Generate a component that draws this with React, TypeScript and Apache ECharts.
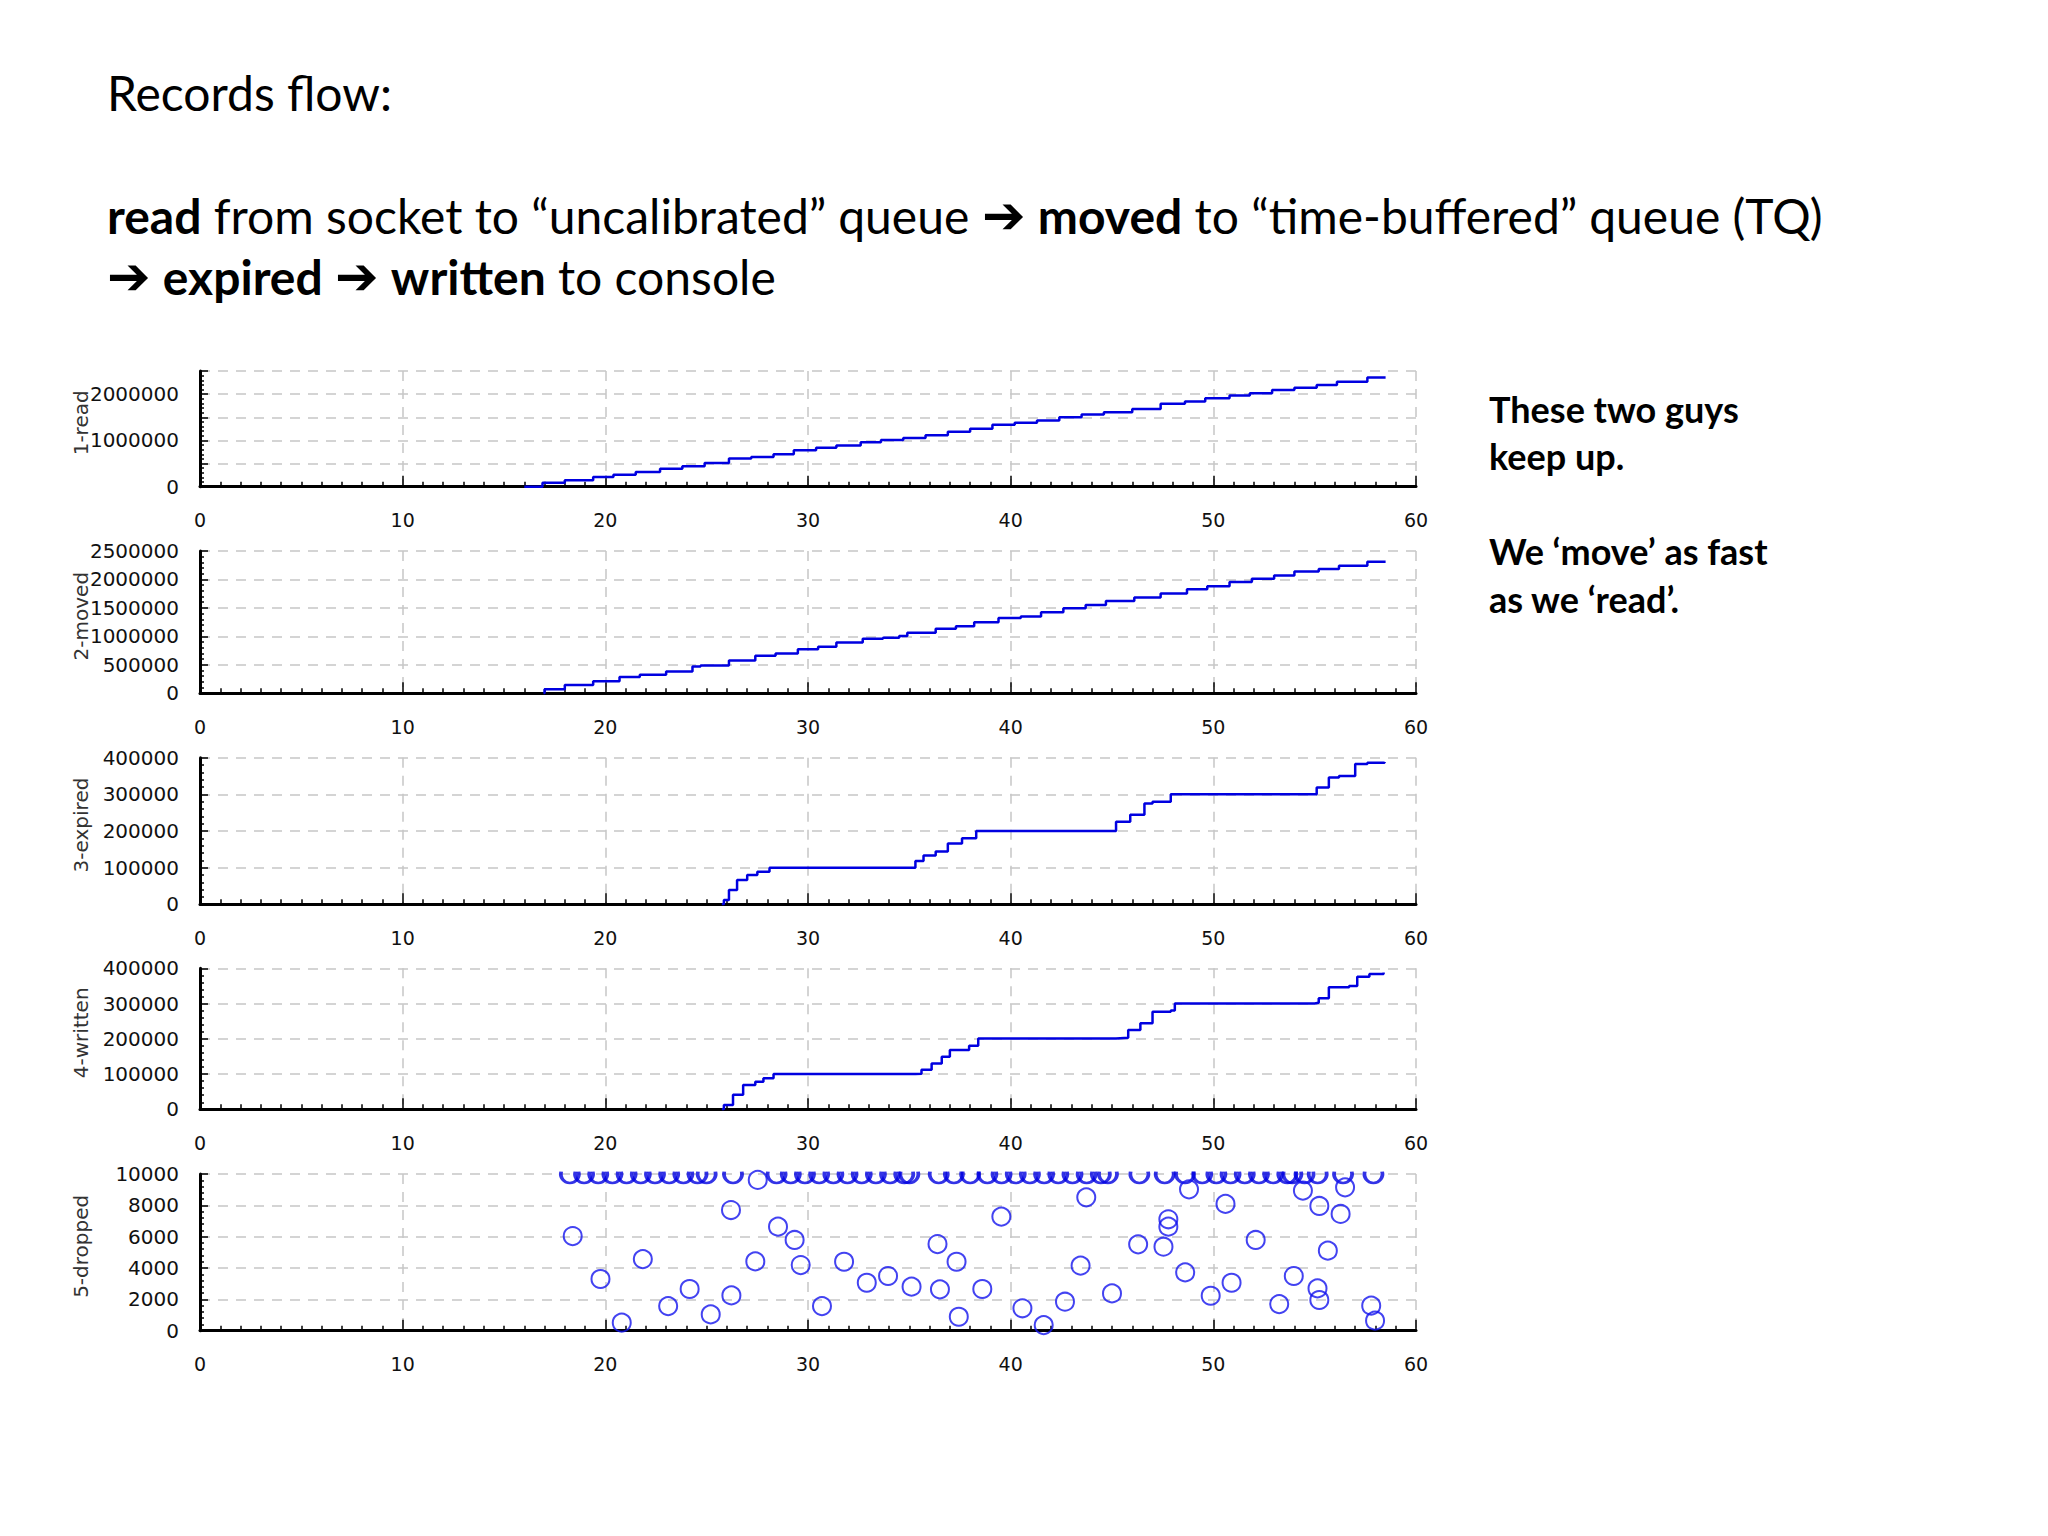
import React, { useEffect, useRef } from 'react';
import * as echarts from 'echarts';

// ---------- data ----------
const panelNames = ['1-read', '2-moved', '3-expired', '4-written', '5-dropped'];
const xTickLabels = [0, 10, 20, 30, 40, 50, 60];

const readData: [number, number][] = [
  [16.0, 0], [16.9, 86000], [18.0, 140000], [19.4, 210000], [20.4, 260000], [21.5, 320000],
  [22.7, 390000], [23.8, 440000], [24.9, 510000], [26.1, 610000], [27.2, 640000], [28.3, 700000],
  [29.3, 786000], [30.4, 840000], [31.4, 890000], [32.6, 960000], [33.6, 1010000], [34.7, 1050000],
  [35.8, 1110000], [36.9, 1190000], [38.0, 1250000], [39.1, 1340000], [40.2, 1380000], [41.3, 1430000],
  [42.4, 1500000], [43.5, 1560000], [44.6, 1610000], [46.0, 1680000], [47.4, 1790000], [48.6, 1840000],
  [49.6, 1910000], [50.8, 1970000], [51.8, 2020000], [52.9, 2090000], [54.0, 2140000], [55.1, 2200000],
  [56.1, 2270000], [57.6, 2360000], [58.5, 2370000],
];

const movedData: [number, number][] = [
  [16.95, 0], [17.0, 69000], [18.0, 144000], [19.4, 213000], [20.7, 287000], [21.7, 328000],
  [23.0, 385000], [24.3, 471000], [24.7, 489000], [26.1, 575000], [27.4, 661000], [28.4, 701000],
  [29.5, 776000], [30.5, 816000], [31.4, 891000], [32.7, 960000], [33.7, 977000], [34.5, 1006000],
  [34.9, 1063000], [36.3, 1132000], [37.3, 1178000], [38.2, 1247000], [39.4, 1322000], [40.5, 1350000],
  [41.5, 1425000], [42.6, 1494000], [43.7, 1552000], [44.7, 1621000], [46.1, 1684000], [47.4, 1753000],
  [48.7, 1828000], [49.7, 1879000], [50.8, 1954000], [51.9, 2011000], [53.0, 2069000], [54.0, 2138000],
  [55.2, 2184000], [56.2, 2241000], [57.6, 2310000], [58.5, 2310000],
];

const expiredData: [number, number][] = [
  [25.75, 0], [25.85, 12000], [26.1, 39000], [26.5, 66000], [27.0, 80000], [27.5, 89000],
  [28.1, 100000], [35.3, 118000], [35.7, 133000], [36.3, 144000], [36.9, 166000], [37.6, 180000],
  [38.3, 200000], [45.2, 225000], [45.9, 244000], [46.6, 275000], [47.0, 280000], [47.9, 300000],
  [55.1, 319000], [55.7, 346000], [56.2, 350000], [57.0, 383000], [57.6, 386000], [58.45, 388000],
];

const writtenData: [number, number][] = [
  [25.75, 0], [25.85, 12000], [26.3, 41000], [26.8, 69000], [27.4, 78000], [27.8, 88000],
  [28.3, 100000], [35.3, 101000], [35.6, 112000], [36.1, 130000], [36.6, 149000], [37.0, 168000],
  [37.95, 180000], [38.4, 201000], [45.2, 203000], [45.8, 225000], [46.4, 244000], [47.0, 277000],
  [47.9, 280000], [48.1, 300000], [55.0, 302000], [55.2, 315000], [55.7, 346000], [56.7, 350000],
  [57.1, 376000], [57.7, 384000], [58.4, 388000],
];

// times at which the dropped count hits the 10000 ceiling
const droppedCapTimes: number[] = [
  18.25, 18.95, 19.65, 20.35, 21.05, 21.75, 22.45, 23.15, 23.85, 24.55, 25.0,
  26.3,
  28.45, 29.15, 29.85, 30.55, 31.25, 31.95, 32.65, 33.35, 34.05, 34.75, 35.0,
  36.45, 37.2, 38.0,
  38.85, 39.55, 40.25, 40.95, 41.65, 42.35, 43.05, 43.75, 44.45, 44.8,
  46.35, 47.6, 48.6,
  49.45, 50.15, 50.85, 51.55, 52.25, 52.95, 53.65, 53.9, 54.5,
  55.15, 56.4, 57.9,
];
const droppedCap = 10000;

const droppedPoints: [number, number][] = [
  [18.39, 6040], [19.76, 3300], [20.81, 510], [21.85, 4570], [23.1, 1570], [24.16, 2660],
  [25.2, 1040], [26.2, 7700], [26.22, 2250], [27.4, 4420], [27.52, 9620], [28.52, 6640],
  [29.34, 5790], [29.64, 4190], [30.69, 1570], [31.78, 4400], [32.9, 3060], [33.95, 3490],
  [35.11, 2810], [36.39, 5530], [36.51, 2640], [37.33, 4400], [37.44, 890], [38.6, 2660],
  [39.54, 7280], [40.58, 1430], [41.63, 360], [42.68, 1850], [43.45, 4150], [43.73, 8510],
  [45.0, 2380], [46.29, 5510], [47.54, 5360], [47.78, 7110], [47.78, 6640], [48.61, 3720],
  [48.8, 9020], [49.87, 2230], [50.6, 8090], [50.9, 3060], [52.09, 5790], [53.25, 1700],
  [53.97, 3490], [54.42, 8940], [55.14, 2700], [55.23, 1960], [55.23, 7960], [55.65, 5110],
  [56.28, 7450], [56.5, 9150], [57.79, 1600], [57.98, 640],
];

const yMax = [2500000, 2500000, 400000, 400000, 10000];
const yInterval = [500000, 500000, 100000, 100000, 2000];
const yLabelEvery = [1000000, 500000, 100000, 100000, 2000];

// ---------- layout ----------
const GRID_LEFT = 200;
const GRID_WIDTH = 1216;
const gridTops = [371, 551, 757.7, 968.3, 1174];
const gridHeights = [115.7, 142.3, 146.6, 141, 156.7];

const BLUE = '#0000e0';
const AXIS_FONT = 'DejaVu Sans';
const TEXT_FONT = 'Lato';

// lower part of a circle (clipped slightly above its centre), r = 9
const CAP_SYMBOL = 'path://M0.31,-2.33 A9,9 0 1 0 17.69,-2.33';

export default function App() {
  const ref = useRef<HTMLDivElement>(null);

  useEffect(() => {
    if (!ref.current) return;
    const chart = echarts.init(ref.current, undefined, { renderer: 'svg' });

    const grids = gridTops.map((t, i) => ({
      left: GRID_LEFT, width: GRID_WIDTH, top: t, height: gridHeights[i], containLabel: false,
    }));

    const splitLineStyle = { color: '#c6c6c6', width: 1.5, type: [10, 8] as any };

    const xAxes = gridTops.map((_, i) => ({
      type: 'value', gridIndex: i, min: xTickLabels[0], max: xTickLabels[xTickLabels.length - 1], interval: 10,
      axisLine: { show: true, onZero: false, lineStyle: { color: '#000', width: 3 } },
      axisTick: { show: true, inside: true, length: 11, lineStyle: { color: '#000', width: 1.5 } },
      minorTick: { show: true, splitNumber: 10, length: 5, lineStyle: { color: '#000', width: 1.5 } },
      axisLabel: {
        margin: 24, fontFamily: AXIS_FONT, fontSize: 19, color: '#111',
        showMinLabel: true, showMaxLabel: true,
      },
      splitLine: { show: true, lineStyle: splitLineStyle },
    }));

    const yAxes = gridTops.map((_, i) => ({
      type: 'value', gridIndex: i, min: 0, max: yMax[i], interval: yInterval[i],
      name: panelNames[i], nameLocation: 'middle', nameGap: 109, nameRotate: 90,
      nameMoveOverlap: false,
      nameTextStyle: { fontFamily: AXIS_FONT, fontSize: 20, color: '#333', padding: [0, 0, 0, 12] },
      axisLine: { show: true, onZero: false, lineStyle: { color: '#000', width: 3 } },
      axisTick: { show: true, inside: true, length: 8, lineStyle: { color: '#000', width: 1.5 } },
      minorTick: { show: true, splitNumber: 5, length: 4, lineStyle: { color: '#000', width: 1.5 } },
      axisLabel: {
        margin: 21, fontFamily: AXIS_FONT, fontSize: 20, color: '#111',
        showMinLabel: true, showMaxLabel: true,
        formatter: (v: number) => (Math.round(v) % yLabelEvery[i] === 0 ? String(Math.round(v)) : ''),
      },
      splitLine: { show: true, lineStyle: splitLineStyle },
    }));

    const lineSeries = (data: [number, number][], idx: number) => ({
      type: 'line', xAxisIndex: idx, yAxisIndex: idx, data, step: 'end',
      symbol: 'none', lineStyle: { color: BLUE, width: 2.5 }, z: 5,
    });

    const richStyles = {
      b: { fontFamily: TEXT_FONT, fontSize: 48, fontWeight: 'bold', fill: '#000' },
      ar: { fontFamily: 'DejaVu Sans', fontSize: 52, fontWeight: 'bold', fill: '#000' },
    };

    const option: any = {
      animation: false,
      backgroundColor: '#fff',
      grid: grids,
      xAxis: xAxes,
      yAxis: yAxes,
      series: [
        lineSeries(readData, 0),
        lineSeries(movedData, 1),
        lineSeries(expiredData, 2),
        lineSeries(writtenData, 3),
        {
          type: 'scatter', xAxisIndex: 4, yAxisIndex: 4, clip: false, z: 5,
          data: droppedCapTimes.map((t) => [t, droppedCap]),
          symbol: CAP_SYMBOL,
          symbolSize: [18, 11.33], symbolOffset: [0, 3.33],
          itemStyle: { color: 'transparent', borderColor: BLUE, borderWidth: 3 },
        },
        {
          type: 'scatter', xAxisIndex: 4, yAxisIndex: 4, clip: false, z: 5,
          data: droppedPoints,
          symbol: 'circle', symbolSize: 18,
          itemStyle: { color: 'transparent', borderColor: '#1414ee', borderWidth: 2 },
        },
      ],
      graphic: [
        {
          type: 'text', x: 107, y: 92,
          style: { text: 'Records flow:', fontFamily: TEXT_FONT, fontSize: 48, fill: '#000', verticalAlign: 'middle' },
        },
        {
          type: 'text', x: 107, y: 215,
          style: {
            text: '{b|read} from socket to “uncalibrated” queue {ar|➔} {b|moved} to “time-buffered” queue (TQ)',
            fontFamily: TEXT_FONT, fontSize: 48, fill: '#000', verticalAlign: 'middle',
            rich: richStyles,
          },
        },
        {
          type: 'text', x: 107, y: 276,
          style: {
            text: '{ar|➔} {b|expired} {ar|➔} {b|written} to console',
            fontFamily: TEXT_FONT, fontSize: 48, fill: '#000', verticalAlign: 'middle',
            rich: richStyles,
          },
        },
        ...['These two guys', 'keep up.', 'We ‘move’ as fast', 'as we ‘read’.'].map((s, i) => ({
          type: 'text', x: 1489, y: [409, 456, 551, 599][i],
          style: { text: s, fontFamily: TEXT_FONT, fontSize: 36, fontWeight: 'bold', fill: '#000', verticalAlign: 'middle' },
        })),
      ],
    };

    chart.setOption(option);
    return () => chart.dispose();
  }, []);

  return (
    <div
      ref={ref}
      style={{ position: 'absolute', left: 0, top: 0, width: 2048, height: 1536, background: '#fff' }}
    />
  );
}
